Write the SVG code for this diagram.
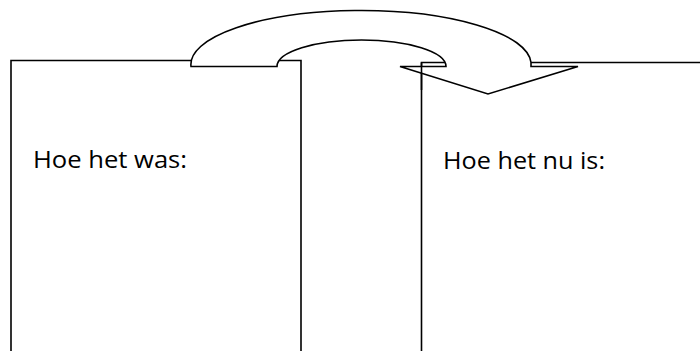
<svg xmlns="http://www.w3.org/2000/svg" width="700" height="351" viewBox="0 0 700 351">
<style>
.ln{fill:none;stroke:#000;stroke-width:1.6}
.arr{fill:#fff;stroke:#000;stroke-width:1.6;stroke-linejoin:miter}
.lbl{font-family:"Open Sans","Liberation Sans",sans-serif;font-size:24.5px;fill:#000}
</style>
<rect width="700" height="351" fill="#fff"/>
<g id="box-was">
<path class="ln" d="M11,360 V60.5 H301 V360"/>
<text class="lbl" x="33" y="168" textLength="154" lengthAdjust="spacingAndGlyphs">Hoe het was:</text>
</g>
<g id="box-nu">
<path class="ln" d="M421.5,360 V62.5 H702"/>
<text class="lbl" x="443" y="169" textLength="162" lengthAdjust="spacingAndGlyphs">Hoe het nu is:</text>
</g>
<g id="connectors">
<path class="arr" d="M191,66.5 A170,54 0 0 1 531,62.5 V66.5 H578 L488,94 L400,66.5 H446 A84.5,26.5 0 0 0 277,66.5 Z"/>
<path class="ln" d="M421.5,62.5 V90"/>
</g>
</svg>
